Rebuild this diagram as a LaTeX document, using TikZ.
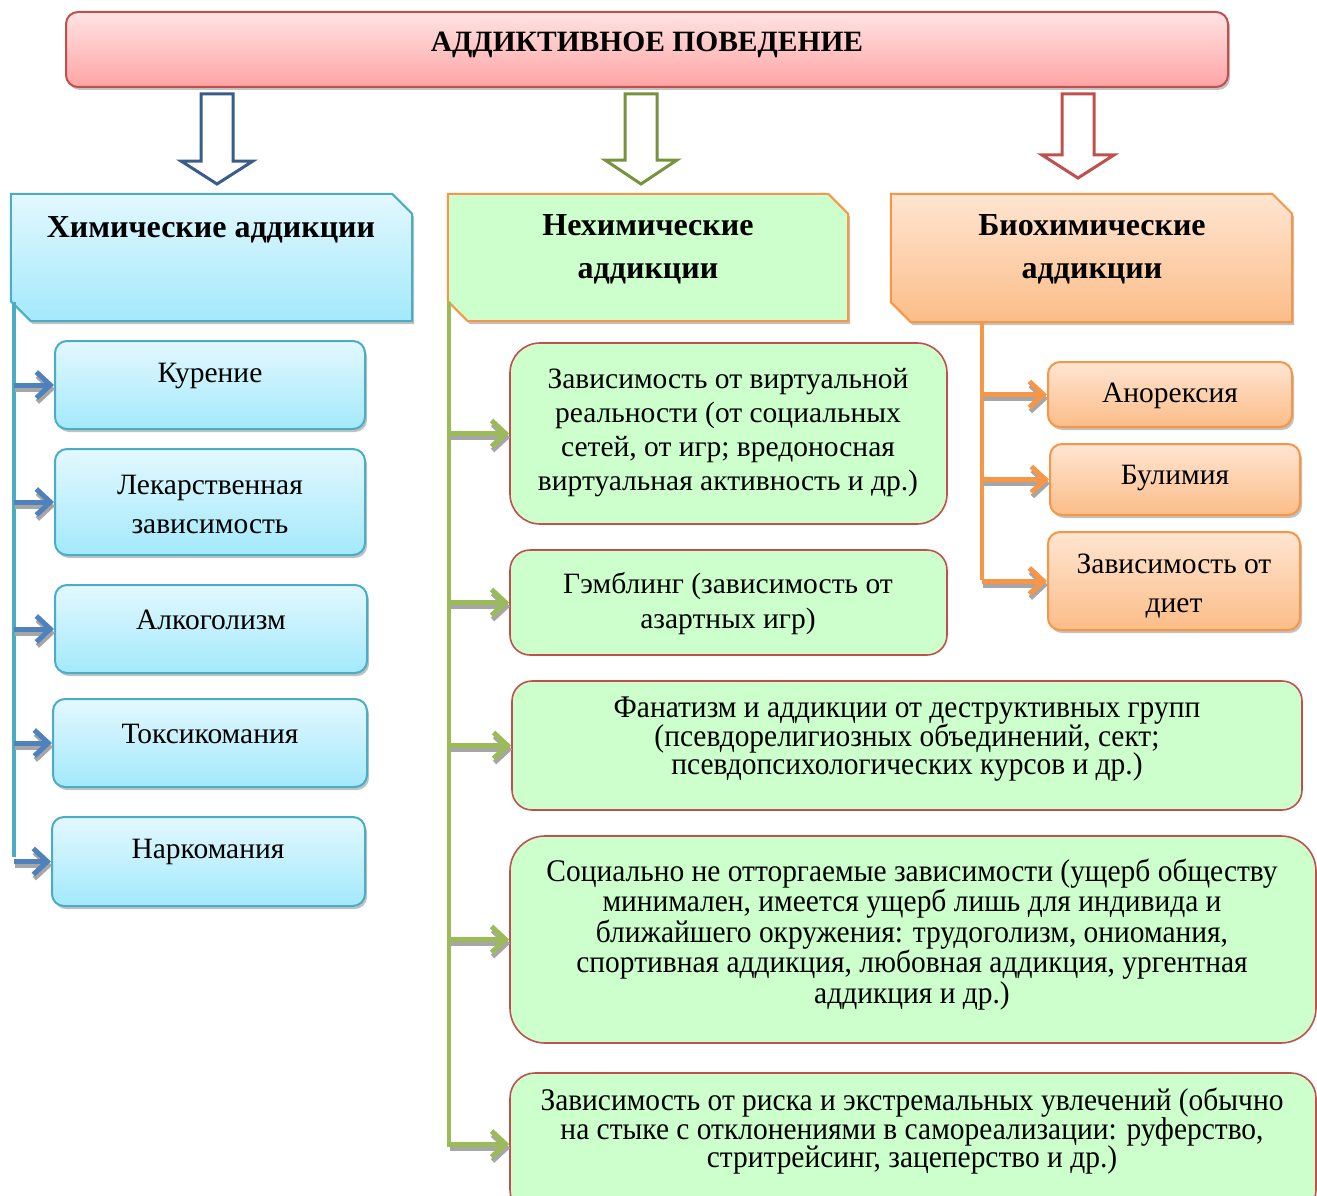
\documentclass[tikz,border=0pt]{standalone}
\usepackage{fontspec}
\setmainfont{Liberation Serif}
\newfontfamily\narrowfont{Liberation Serif}[FakeStretch=0.935]
\usetikzlibrary{shadows,arrows.meta}

\definecolor{bluebd}{HTML}{4BACC6}
\definecolor{bluetop}{HTML}{E3F8FE}
\definecolor{bluebot}{HTML}{A3E9FC}
\definecolor{bluearr}{HTML}{4F81BD}
\definecolor{bluedk}{HTML}{385D8A}
\definecolor{greenfill}{HTML}{CCFFCC}
\definecolor{greenarr}{HTML}{9BBB59}
\definecolor{greendk}{HTML}{77933C}
\definecolor{orangebd}{HTML}{F79646}
\definecolor{orangetop}{HTML}{FFE5D2}
\definecolor{orangebot}{HTML}{FBBD88}
\definecolor{redbd}{HTML}{C0504D}
\definecolor{redtop}{HTML}{FFE3E3}
\definecolor{redbot}{HTML}{FFA4A4}

% narrow font for the long green boxes
\newcommand\narrowset[1]{\narrowfont\fontsize{31.5}{#1}\selectfont\lineskiplimit=-50pt\relax}
% header outline with two cut corners
\newcommand\headpath[1]{(#1.north west) -- ([xshift=-20pt]#1.north east) -- ([yshift=-20pt]#1.north east)
  -- (#1.south east) -- ([xshift=20pt]#1.south west) -- ([yshift=20pt]#1.south west) -- cycle}

\tikzset{
  shad/.style={drop shadow={shadow xshift=2pt,shadow yshift=-3pt,fill=black!40,opacity=.6}},
  titlebox/.style={rounded corners=12pt, draw=redbd, line width=2pt, top color=redtop, bottom color=redbot, inner sep=0pt, shad},
  headarea/.style={inner sep=0pt},
  headbox/.style={line width=2pt, line join=miter, shad},
  bluebox/.style={rounded corners=12pt, draw=bluebd, line width=2pt, top color=bluetop, bottom color=bluebot, inner sep=0pt, shad},
  greenbox/.style={draw=redbd, line width=1.6pt, fill=greenfill, inner sep=0pt},
  orangebox/.style={rounded corners=12pt, draw=orangebd, line width=2pt, top color=orangetop, bottom color=orangebot, inner sep=0pt, shad},
  blockarr/.style={line width=3pt, fill=white, line join=miter},
  trunk/.style={line width=4.5pt},
  branch/.style={line width=5pt, -{Straight Barb[length=14pt,width=26pt]}},
  arrshad/.style={branch, draw=black!35},
  titletxt/.style={inner sep=0pt, yshift=-2.5pt, font=\bfseries\fontsize{29.5}{34}\selectfont},
  headtxt/.style={inner sep=0pt, yshift=-2.5pt, align=center, font=\bfseries\fontsize{32}{43}\selectfont},
  itemtxt/.style={inner sep=0pt, yshift=-2pt, align=center, font=\fontsize{29.5}{34}\selectfont},
  narrowtxt/.style={inner sep=0pt, yshift=-1.5pt, align=center, font=\narrowset{28.5}}
}

\begin{document}
\begin{tikzpicture}[x=1pt,y=-1pt]
\useasboundingbox (0,0) rectangle (1317,1196);
\clip (0,0) rectangle (1317,1196);

% Draw title box
\node[titlebox, minimum width=1162pt, minimum height=75pt] (title) at (647,49.5) {};
\node[titletxt] (titleT) at (647,42) {АДДИКТИВНОЕ ПОВЕДЕНИЕ};

% Draw hollow block arrows
\foreach \cx/\hy/\ty/\col in {217/161/184/bluedk, 641/160/184/greendk, 1078/155/178/redbd}
  \draw[blockarr, draw=\col] (\cx-16,94) -- (\cx+16,94) -- (\cx+16,\hy) -- (\cx+36,\hy)
    -- (\cx,\ty) -- (\cx-36,\hy) -- (\cx-16,\hy) -- cycle;

% Draw the three group headers
\node[headarea, minimum width=401pt, minimum height=127pt] (bhead) at (211.5,257.5) {};
\node[headarea, minimum width=400pt, minimum height=127pt] (ghead) at (648,257.5) {};
\node[headarea, minimum width=401pt, minimum height=128pt] (ohead) at (1091.5,258) {};
\draw[headbox, draw=bluebd, top color=bluetop, bottom color=bluebot] \headpath{bhead};
\draw[headbox, draw=orangebd, fill=greenfill] \headpath{ghead};
\draw[headbox, draw=orangebd, top color=orangetop, bottom color=orangebot] \headpath{ohead};
\node[headtxt] (bheadT) at (211,227) {Химические аддикции};
\node[headtxt] (gheadT) at (648,246.5) {Нехимические\\аддикции};
\node[headtxt] (oheadT) at (1092,246.5) {Биохимические\\аддикции};

% Draw chemical addiction boxes
\node[bluebox, minimum width=310pt, minimum height=88pt] (kur) at (210,385) {};
\node[bluebox, minimum width=310pt, minimum height=106pt] (lek) at (210,502) {};
\node[bluebox, minimum width=312pt, minimum height=88pt] (alk) at (211,629) {};
\node[bluebox, minimum width=314pt, minimum height=88pt] (tox) at (210,743) {};
\node[bluebox, minimum width=313pt, minimum height=89pt] (nar) at (208.5,861.5) {};
\node[itemtxt] (kurT) at (210,374) {Курение};
\node[itemtxt, font=\fontsize{29.5}{39}\selectfont] (lekT) at (210,502) {Лекарственная\\зависимость};
\node[itemtxt] (alkT) at (211,618) {Алкоголизм};
\node[itemtxt] (toxT) at (210,732) {Токсикомания};
\node[itemtxt] (narT) at (208,850) {Наркомания};

% Draw non-chemical addiction boxes
\node[greenbox, rounded corners=30pt, minimum width=437pt, minimum height=181pt] (virt) at (728.5,433.5) {};
\node[greenbox, rounded corners=20pt, minimum width=437pt, minimum height=105pt] (gamb) at (728.5,602.5) {};
\node[greenbox, rounded corners=20pt, minimum width=790pt, minimum height=129pt] (fan) at (907,745.5) {};
\node[greenbox, rounded corners=35pt, minimum width=806pt, minimum height=207pt] (soc) at (913,939.5) {};
\node[greenbox, rounded corners=25pt, minimum width=806pt, minimum height=142pt] (risk) at (913,1144) {};
\node[itemtxt] (virtT) at (728,431) {Зависимость от виртуальной\\реальности (от социальных\\сетей, от игр; вредоносная\\виртуальная активность и др.)};
\node[itemtxt, font=\fontsize{29.5}{35}\selectfont] (gambT) at (728,601.5) {Гэмблинг (зависимость от\\азартных игр)};
\node[narrowtxt] (fanT) at (907,738) {Фанатизм и аддикции от деструктивных групп\\(псевдорелигиозных объединений, сект;\\псевдопсихологических курсов и др.)};
\node[narrowtxt, font=\narrowset{30.5}] (socT) at (912,933) {Социально не отторгаемые зависимости (ущерб обществу\\минимален, имеется ущерб лишь для индивида и\\ближайшего окружения: трудоголизм, ониомания,\\спортивная аддикция, любовная аддикция, ургентная\\аддикция и др.)};
\node[narrowtxt] (riskT) at (912,1130) {Зависимость от риска и экстремальных увлечений (обычно\\на стыке с отклонениями в самореализации: руферство,\\стритрейсинг, зацеперство и др.)};

% Draw biochemical addiction boxes
\node[orangebox, minimum width=244pt, minimum height=65pt] (anor) at (1170,394.5) {};
\node[orangebox, minimum width=250pt, minimum height=71pt] (bul) at (1175,479.5) {};
\node[orangebox, minimum width=252pt, minimum height=98pt] (diet) at (1174,581) {};
\node[itemtxt] (anorT) at (1170,394) {Анорексия};
\node[itemtxt] (bulT) at (1175,476) {Булимия};
\node[itemtxt, font=\fontsize{29.5}{39}\selectfont] (dietT) at (1174,584) {Зависимость от\\диет};

% Draw trunk lines
\coordinate (btop) at (14,302);
\coordinate (bbot) at (14,857);
\coordinate (gtop) at (449,302);
\coordinate (gbot) at (449,1147);
\coordinate (otop) at (982,322);
\coordinate (obot) at (982,580);
\draw[trunk, draw=bluebd] (btop) -- (bbot);
\draw[trunk, draw=greenarr] (gtop) -- (gbot);
\draw[trunk, draw=orangebd] (otop) -- (obot);

% Draw branch arrows with their shadows
\foreach \b in {kur,lek,alk,tox,nar}{
  \draw[arrshad] ([shift={(1,4)}]btop |- \b.west) -- ([shift={(1,4)}]\b.west);
  \draw[branch, draw=bluearr] (btop |- \b.west) -- (\b.west);
}
\foreach \b in {virt,gamb,fan,soc,risk}{
  \draw[arrshad] ([shift={(1,4)}]gtop |- \b.west) -- ([shift={(1,4)}]\b.west);
  \draw[branch, draw=greenarr] (gtop |- \b.west) -- (\b.west);
}
\foreach \b in {anor,bul,diet}{
  \draw[arrshad] ([shift={(1,4)}]otop |- \b.west) -- ([shift={(1,4)}]\b.west);
  \draw[branch, draw=orangebd] (otop |- \b.west) -- (\b.west);
}
\end{tikzpicture}
\end{document}
